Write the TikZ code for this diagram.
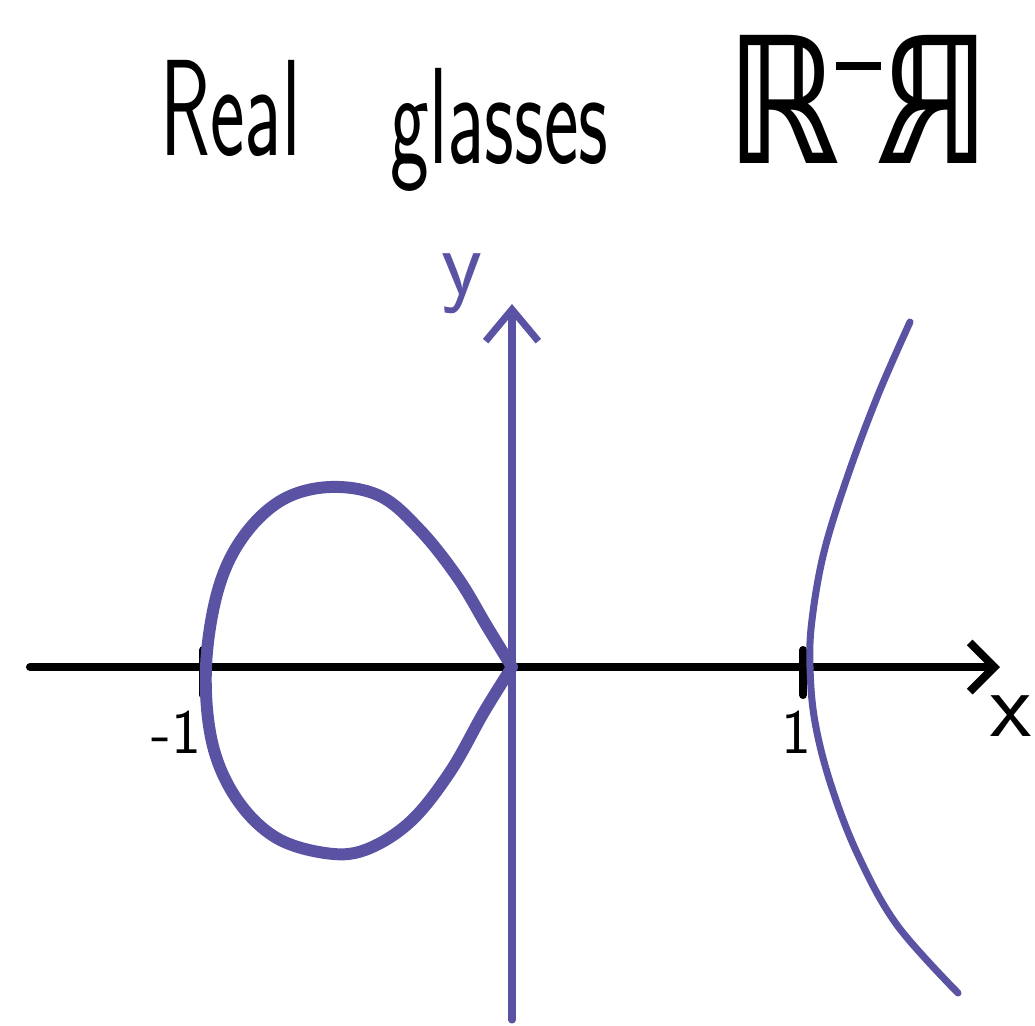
\documentclass[tikz,border=0pt]{standalone}
\usepackage{fontspec}
\usepackage{graphicx}
\usetikzlibrary{arrows.meta}
\newfontfamily\glassfont{DejaVu Sans}
\definecolor{curvepurple}{HTML}{5A52A3}

\begin{document}
\begin{tikzpicture}[
  x=0.01cm, y=-0.01cm,
  title/.style={font=\sffamily\fontsize{39}{44}\selectfont, inner sep=0pt, anchor=base west},
  axisline/.style={line width=2.3pt, line cap=round, -{Straight Barb[length=7pt, width=14pt]}},
  tick/.style={line width=2.3pt, line cap=round},
  curve/.style={draw=curvepurple, line cap=round, line join=round},
  ticklabel/.style={font=\sffamily\fontsize{18}{20}\selectfont, inner sep=0pt},
  axislabel/.style={font=\sffamily\fontsize{27}{30}\selectfont, inner sep=0pt}
]
  \useasboundingbox[fill=white] (0,0) rectangle (1035,1026);
  % title
  \node[title] (real) at (160,155) {\scalebox{0.6}[1]{Real}};
  \node[title] (glasses) at (390,163) {\scalebox{0.6}[1]{glasses}};
  \node[inner sep=0pt, anchor=base west, font=\glassfont\bfseries\fontsize{50}{54}\selectfont] (rr) at (726,163)
    {\scalebox{0.8}[1]{ℝ}\kern-1pt\rule[0.93cm]{0.45cm}{0.08cm}\kern-1pt\reflectbox{\scalebox{0.8}[1]{ℝ}}};
  % axes
  \coordinate (xleft) at (30,667);
  \coordinate (xright) at (1000,667);
  \coordinate (ybottom) at (512,1020);
  \coordinate (ytop) at (512,304);
  \draw[axisline] (xleft) -- (xright);
  \draw[axisline, draw=curvepurple, line width=2pt, -{Straight Barb[length=9pt, width=15pt]}] (ybottom) -- (ytop);
  \node[axislabel] (xlab) at (1011,716) {x};
  \node[axislabel, text=curvepurple] (ylab) at (462,284) {y};
  % ticks
  \draw[tick] (203,650) -- (203,695);
  \draw[tick] (803,650) -- (803,695);
  % the loop
  \draw[curve, line width=3.4pt] plot[smooth, tension=0.6] coordinates {(512,667) (488,628) (458,578) (420,530) (380,496) (330,487) (282,500) (243,537) (218,590) (206,667) (212,742) (236,798) (275,837) (325,853) (365,850) (410,822) (450,772) (484,712) (512,667)};
  % the branch
  \draw[curve, line width=2pt] plot[smooth, tension=0.6] coordinates {(910,322) (878,395) (848,475) (824,552) (812,620) (810,667) (815,722) (831,785) (858,855) (897,925) (958,993)};
  \node[ticklabel, anchor=east] (mone) at (202,732) {-1};
  \node[ticklabel, anchor=east] (one) at (812,732) {1};
\end{tikzpicture}
\end{document}
